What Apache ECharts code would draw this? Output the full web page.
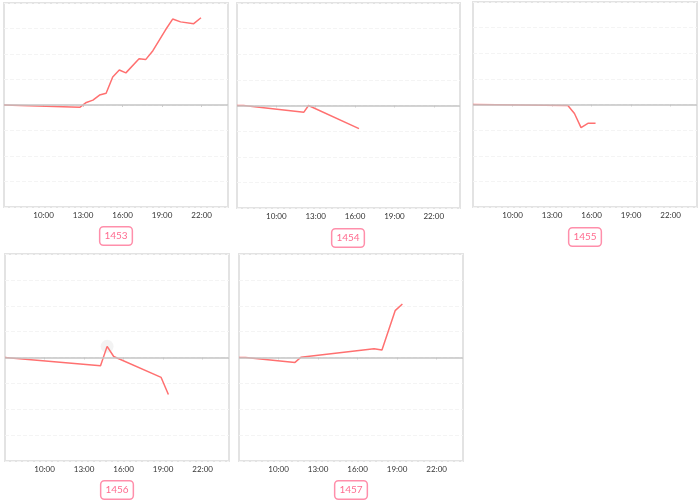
<!DOCTYPE html>
<html>
<head>
<meta charset="utf-8">
<script src="https://cdn.jsdelivr.net/npm/echarts@6/dist/echarts.min.js"></script>
<style>html,body{margin:0;padding:0;background:#fff;}#c{width:700px;height:503px;}</style>
</head>
<body>
<div id="c"></div>
<script>
// Panel names
var panelNames = ['1453', '1454', '1455', '1456', '1457'];
// x tick labels (hours)
var tickHours = [10, 13, 16, 19, 22];
// Series: [hour, value] (value in grid units, zero = reference line)
var s1453 = [[7.0, 0], [12.75, -0.09], [13.25, 0.10], [13.75, 0.19], [14.25, 0.39], [14.75, 0.46], [15.25, 1.10], [15.75, 1.37], [16.25, 1.26], [17.25, 1.81], [17.75, 1.78], [18.3, 2.13], [19.25, 2.94], [19.8, 3.37], [20.4, 3.26], [21.4, 3.19], [21.95, 3.42]];
var s1454 = [[7.0, 0], [7.5, 0], [12.1, -0.26], [12.45, 0], [16.3, -0.90]];
var s1455 = [[7.0, 0], [14.2, -0.04], [14.7, -0.35], [15.2, -0.90], [15.75, -0.73], [16.3, -0.73]];
var s1456 = [[7.0, 0], [14.25, -0.32], [14.75, 0.43], [15.25, 0.04], [18.85, -0.77], [19.4, -1.43]];
var s1457 = [[7.0, 0], [7.5, 0], [11.25, -0.19], [11.7, 0.01], [17.25, 0.34], [17.85, 0.29], [18.85, 1.81], [19.4, 2.07]];
var highlight1456 = [[14.75, 0.43]];

var seriesData = [s1453, s1454, s1455, s1456, s1457];

// layout
var grids = [
  {left: 4, top: 3, width: 224, height: 204},
  {left: 237, top: 3, width: 223, height: 205},
  {left: 473, top: 2, width: 224, height: 205},
  {left: 5, top: 254, width: 224, height: 207},
  {left: 239, top: 254, width: 224, height: 207}
];
var labelPos = [[116, 236], [348, 238], [585, 237], [117, 490], [351, 490]];

var lineColor = '#ff7070';
var option = {
  animation: false,
  backgroundColor: '#fff',
  grid: [], xAxis: [], yAxis: [], series: [], graphic: []
};
grids.forEach(function (g, i) {
  option.grid.push({left: g.left, top: g.top, width: g.width, height: g.height, show: true,
    borderColor: '#e3e3e3', borderWidth: 2, backgroundColor: '#fff', containLabel: false});
  option.xAxis.push({type: 'value', gridIndex: i, min: 7, max: 24, interval: 3,
    axisLine: {show: false},
    axisTick: {show: true, length: 2, lineStyle: {color: '#d0d0d0'}},
    splitLine: {show: false},
    axisLabel: {fontSize: 8, color: '#333', margin: 4, showMinLabel: false, showMaxLabel: false,
      fontFamily: 'Lato, "Noto Sans", sans-serif',
      formatter: function (v) { return tickHours.indexOf(v) >= 0 ? v + ':00' : ''; }}
  });
  option.yAxis.push({type: 'value', gridIndex: i, min: -4, max: 4, interval: 1,
    axisLine: {show: false}, axisTick: {show: false}, axisLabel: {show: false},
    splitLine: {show: true, lineStyle: {color: '#f4f4f4', type: 'dashed', width: 1}}
  });
  option.series.push({type: 'line', xAxisIndex: i, yAxisIndex: i, data: seriesData[i],
    showSymbol: false, symbol: 'none', lineStyle: {color: lineColor, width: 1.5},
    itemStyle: {color: lineColor},
    markLine: {silent: true, symbol: 'none', label: {show: false},
      lineStyle: {color: '#c4c4c4', width: 1.5, type: 'solid'}, data: [{yAxis: 0}]}
  });
  option.graphic.push({type: 'text', x: labelPos[i][0], y: labelPos[i][1],
    style: {text: panelNames[i], fill: '#ff6b8f', fontSize: 10,
      fontFamily: 'Lato, "Noto Sans", sans-serif',
      align: 'center', verticalAlign: 'middle',
      backgroundColor: '#fff', borderColor: '#ff8fab', borderWidth: 1.5, borderRadius: 3,
      padding: [4, 4, 3, 4]}
  });
});
option.series.push({type: 'scatter', xAxisIndex: 3, yAxisIndex: 3, data: highlight1456,
  symbolSize: 13, itemStyle: {color: 'rgba(0,0,0,0.06)'}, silent: true, z: 1});

var chart = echarts.init(document.getElementById('c'), null, {renderer: 'canvas'});
chart.setOption(option);
</script>
</body>
</html>
